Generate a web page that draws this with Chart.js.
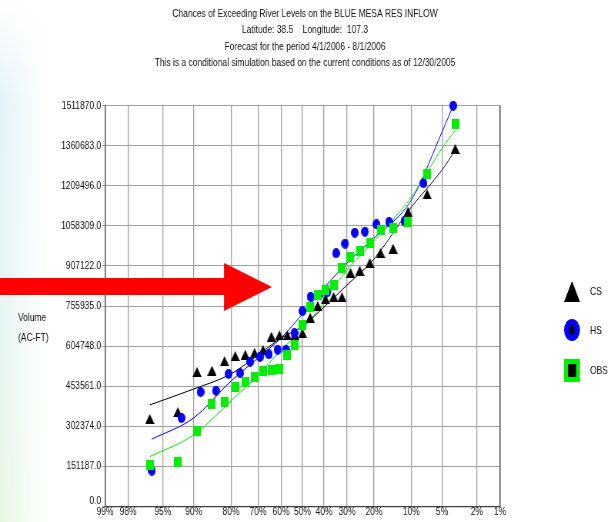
<!DOCTYPE html>
<html>

<head>
    <title>Chances of Exceeding River Levels - BLUE MESA RES INFLOW</title>
    <script src="https://cdn.jsdelivr.net/npm/chart.js"></script>
    <style>
        body {
            margin: 0;
            padding: 0;
            background-color: #ffffff;
        }

        /* faint watermark strip on the left edge */
        .page {
            position: relative;
            width: 611px;
            height: 522px;
            overflow: hidden;
            background:
                linear-gradient(to right, rgba(255, 255, 255, 0) 0px, #ffffff 48px),
                linear-gradient(to bottom, #ffffff 0px, #e2f3f8 100px, #e6f5f3 300px, #e7f6e2 520px);
        }

        /* the original picture is squeezed sideways, so the chart is drawn wide and narrowed */
        #chart {
            position: absolute;
            left: 0;
            top: 0;
            transform: scaleX(0.7695);
            transform-origin: 0 0;
        }
    </style>
</head>

<body>
    <div class="page">
        <canvas id="chart" width="794" height="522"></canvas>
    </div>

    <script>
        // exceedance probabilities (%) shown on the x axis
        const xTickPct = [99, 98, 95, 90, 80, 70, 60, 50, 40, 30, 20, 10, 5, 2, 1];
        // volume ticks (AC-FT)
        const yTickVals = [0, 151187, 302374, 453561, 604748, 755935, 907122, 1058309, 1209496, 1360683, 1511870];

        // CS points
        const csPct = [96.4, 92.9, 89.3, 85.7, 82.1, 78.6, 75.0, 71.4, 67.9, 64.3, 60.7, 57.1, 53.6, 50.0,
            46.4, 42.9, 39.3, 35.7, 32.1, 28.6, 25.0, 21.4, 17.9, 14.3, 10.7, 7.1, 3.6];
        const csVol = [330000, 356000, 507000, 512000, 548000, 567000, 572000, 579000, 590000, 640000, 645000, 645000, 646000, 653000,
            712000, 756000, 782000, 790000, 789000, 881000, 889000, 918000, 956000, 972000, 1111000, 1177000, 1348000];

        // HS points
        const hsPct = [96.2, 92.3, 88.5, 84.6, 80.8, 76.9, 73.1, 69.2, 65.4, 61.5, 57.7, 53.8, 50.0,
            46.2, 42.3, 38.5, 34.6, 30.8, 26.9, 23.1, 19.2, 15.4, 11.5, 7.7, 3.8];
        const hsVol = [135000, 334000, 432000, 437000, 500000, 503000, 546000, 564000, 574000, 591000, 591000, 654000, 737000,
            791000, 797000, 808000, 955000, 991000, 1032000, 1036000, 1064000, 1073000, 1076000, 1219000, 1511000];

        // OBS points
        const obsPct = [96.4, 92.9, 89.3, 85.7, 82.1, 78.6, 75.0, 71.4, 67.9, 64.3, 60.7, 57.1, 53.6, 50.0,
            46.4, 42.9, 39.3, 35.7, 32.1, 28.6, 25.0, 21.4, 17.9, 14.3, 10.7, 7.1, 3.6];
        const obsVol = [158000, 169000, 285000, 385000, 395000, 449000, 469000, 488000, 510000, 515000, 518000, 571000, 608000, 684000,
            752000, 797000, 817000, 836000, 899000, 942000, 963000, 992000, 1041000, 1051000, 1071000, 1252000, 1441000];

        // fitted curves
        const csFitPct = [96.4, 90, 80, 70, 60, 50, 40, 30, 20, 10, 5, 3.6];
        const csFit = [383000, 443000, 500000, 571000, 635000, 680000, 752000, 835000, 933000, 1129000, 1269000, 1344000];
        const hsFitPct = [96.2, 90, 80, 70, 60, 50, 40, 30, 20, 10, 5, 3.8];
        const hsFit = [254000, 334000, 473000, 560000, 635000, 726000, 824000, 918000, 1012000, 1155000, 1413000, 1511000];
        const obsFitPct = [96.4, 90, 80, 70, 60, 50, 40, 30, 20, 10, 5, 3.6];
        const obsFit = [188000, 270000, 398000, 496000, 590000, 669000, 771000, 892000, 1001000, 1167000, 1351000, 1419000];

        const FONT = "'Liberation Sans', Arial, sans-serif";
        const TEXT = '#111111';
        const BLUE = '#0000ff';
        const GREEN = '#00ee00';
        const SX = 0.7695; // horizontal squeeze applied by the css transform
        const cx = x => x / SX; // screen x -> canvas x

        // inverse of the standard normal cdf (Acklam)
        function probit(p) {
            const a = [-3.969683028665376e+01, 2.209460984245205e+02, -2.759285104469687e+02, 1.383577518672690e+02, -3.066479806614716e+01, 2.506628277459239e+00];
            const b = [-5.447609879822406e+01, 1.615858368580409e+02, -1.556989798598866e+02, 6.680131188771972e+01, -1.328068155288572e+01];
            const c = [-7.784894002430293e-03, -3.223964580411365e-01, -2.400758277161838e+00, -2.549732539343734e+00, 4.374664141464968e+00, 2.938163982698783e+00];
            const d = [7.784695709041462e-03, 3.224671290700398e-01, 2.445134137142996e+00, 3.754408661907416e+00];
            const pl = 0.02425;
            let q, r;
            if (p < pl) {
                q = Math.sqrt(-2 * Math.log(p));
                return (((((c[0] * q + c[1]) * q + c[2]) * q + c[3]) * q + c[4]) * q + c[5]) / ((((d[0] * q + d[1]) * q + d[2]) * q + d[3]) * q + 1);
            }
            if (p <= 1 - pl) {
                q = p - 0.5;
                r = q * q;
                return (((((a[0] * r + a[1]) * r + a[2]) * r + a[3]) * r + a[4]) * r + a[5]) * q / (((((b[0] * r + b[1]) * r + b[2]) * r + b[3]) * r + b[4]) * r + 1);
            }
            q = Math.sqrt(-2 * Math.log(1 - p));
            return -(((((c[0] * q + c[1]) * q + c[2]) * q + c[3]) * q + c[4]) * q + c[5]) / ((((d[0] * q + d[1]) * q + d[2]) * q + d[3]) * q + 1);
        }

        // normal probability scale: 99% on the left, 1% on the right
        const zOf = pct => -probit(pct / 100);

        class ProbabilityScale extends Chart.LinearScale {
            determineDataLimits() {
                this.min = 1;
                this.max = 99;
            }
            buildTicks() {
                return xTickPct.map(v => ({ value: v }));
            }
            getPixelForValue(value) {
                const z0 = zOf(99), z1 = zOf(1);
                return this.getPixelForDecimal((zOf(value) - z0) / (z1 - z0));
            }
            getValueForPixel(pixel) {
                return 50;
            }
        }
        ProbabilityScale.id = 'probability';
        Chart.register(ProbabilityScale);

        // marker images (canvas units, they get squeezed with the rest)
        function marker(w, h, draw) {
            const c = document.createElement('canvas');
            c.width = w;
            c.height = h;
            draw(c.getContext('2d'), w, h);
            return c;
        }
        const triMark = marker(12, 10, (g, w, h) => {
            g.fillStyle = '#000';
            g.beginPath();
            g.moveTo(w / 2, 0);
            g.lineTo(w, h);
            g.lineTo(0, h);
            g.closePath();
            g.fill();
        });
        const dotMark = marker(10, 10, (g, w, h) => {
            g.fillStyle = BLUE;
            g.beginPath();
            g.ellipse(w / 2, h / 2, w / 2, h / 2, 0, 0, Math.PI * 2);
            g.fill();
        });
        const boxMark = marker(10, 10, (g, w, h) => {
            g.fillStyle = GREEN;
            g.fillRect(0, 0, w, h);
        });

        const pts = (px, vs) => px.map((p, i) => ({ x: p, y: vs[i] }));

        // title, axis caption, legend, arrow
        const decor = {
            id: 'decor',
            beforeDraw(chart) {
                const g = chart.ctx;
                const a = chart.chartArea;
                g.save();
                g.fillStyle = '#ffffff';
                g.fillRect(a.left, a.top, a.right - a.left, a.bottom - a.top);
                g.restore();
            },
            afterDraw(chart) {
                const g = chart.ctx;
                const a = chart.chartArea;
                g.save();

                // frame on the right
                g.strokeStyle = '#404040';
                g.lineWidth = 1.3;
                g.beginPath();
                g.moveTo(a.right, a.top);
                g.lineTo(a.right, a.bottom);
                g.stroke();

                g.fillStyle = TEXT;
                g.font = '11px ' + FONT;
                g.textBaseline = 'middle';

                // bottom volume label sits a little above its grid line
                g.textAlign = 'right';
                g.fillText(Number(yTickVals[0]).toFixed(1), a.left - 5, 501);

                g.textAlign = 'center';
                const title = [
                    'Chances of Exceeding River Levels on the BLUE MESA RES INFLOW',
                    'Latitude: 38.5    Longitude:  107.3',
                    'Forecast for the period 4/1/2006 - 8/1/2006',
                    'This is a conditional simulation based on the current conditions as of 12/30/2005'
                ];
                title.forEach((t, i) => g.fillText(t, cx(305), 14 + i * 16.3));

                g.textAlign = 'left';
                g.fillText('Volume', cx(18), 318);
                g.fillText('(AC-FT)', cx(18), 338);

                // legend
                const lx = cx(572);
                g.fillStyle = '#000';
                g.beginPath();
                g.moveTo(lx, 281);
                g.lineTo(lx + cx(8), 302);
                g.lineTo(lx - cx(8), 302);
                g.closePath();
                g.fill();

                g.fillStyle = BLUE;
                g.beginPath();
                g.ellipse(lx, 330, cx(8), 11, 0, 0, Math.PI * 2);
                g.fill();
                g.fillStyle = '#000';
                g.beginPath();
                g.ellipse(lx, 330, cx(2.5), 5, 0, 0, Math.PI * 2);
                g.fill();

                g.fillStyle = GREEN;
                g.fillRect(lx - cx(8), 359, cx(16), 23);
                g.fillStyle = '#000';
                g.fillRect(lx - cx(4), 364, cx(8), 13);

                g.fillStyle = TEXT;
                g.fillText('CS', cx(590), 292);
                g.fillText('HS', cx(590), 331);
                g.fillText('OBS', cx(590), 371);

                // red arrow
                g.fillStyle = '#ff0000';
                g.beginPath();
                g.moveTo(0, 278);
                g.lineTo(cx(224), 278);
                g.lineTo(cx(224), 263);
                g.lineTo(cx(272), 287);
                g.lineTo(cx(224), 311);
                g.lineTo(cx(224), 295);
                g.lineTo(0, 295);
                g.closePath();
                g.fill();

                g.restore();
            }
        };

        const lineSet = (label, px, vs, color, order) => ({
            type: 'line',
            label: label,
            data: pts(px, vs),
            borderColor: color,
            borderWidth: 1,
            pointRadius: 0,
            fill: false,
            cubicInterpolationMode: 'monotone',
            clip: false,
            order: order
        });

        const markSet = (label, px, vs, img, order) => ({
            type: 'scatter',
            label: label,
            data: pts(px, vs),
            pointStyle: img,
            pointRadius: 5,
            clip: false,
            order: order
        });

        new Chart(document.getElementById('chart'), {
            type: 'scatter',
            data: {
                datasets: [
                    markSet('OBS', obsPct, obsVol, boxMark, 0),
                    markSet('HS', hsPct, hsVol, dotMark, 1),
                    markSet('CS', csPct, csVol, triMark, 2),
                    lineSet('OBS fit', obsFitPct, obsFit, GREEN, 3),
                    lineSet('HS fit', hsFitPct, hsFit, BLUE, 4),
                    lineSet('CS fit', csFitPct, csFit, '#000000', 5)
                ]
            },
            options: {
                responsive: false,
                animation: false,
                events: [],
                layout: {
                    padding: { left: 0, right: cx(111), top: 105.5, bottom: 0 }
                },
                plugins: {
                    legend: { display: false },
                    title: { display: false },
                    tooltip: { enabled: false }
                },
                scales: {
                    x: {
                        type: 'probability',
                        grid: { color: '#a0a0a0', lineWidth: 1.3, drawTicks: false },
                        border: { color: '#404040', width: 1.3 },
                        ticks: {
                            padding: 0,
                            color: TEXT,
                            autoSkip: false,
                            maxRotation: 0,
                            font: { family: FONT, size: 11, lineHeight: 1 },
                            callback: v => v + '%'
                        },
                        afterFit: s => { s.height = 15.5; }
                    },
                    y: {
                        type: 'linear',
                        min: 0,
                        max: 1511870,
                        grid: { color: '#a0a0a0', tickLength: 4 },
                        border: { color: '#404040', width: 1.3 },
                        ticks: {
                            padding: 1,
                            color: TEXT,
                            font: { family: FONT, size: 11 },
                            // the 0 label is drawn by the decor plugin, nudged up
                            callback: v => (v === 0 ? '' : Number(v).toFixed(1))
                        },
                        afterBuildTicks: s => { s.ticks = yTickVals.map(v => ({ value: v })); },
                        afterFit: s => { s.width = cx(105); }
                    }
                }
            },
            plugins: [decor]
        });
    </script>
</body>

</html>
